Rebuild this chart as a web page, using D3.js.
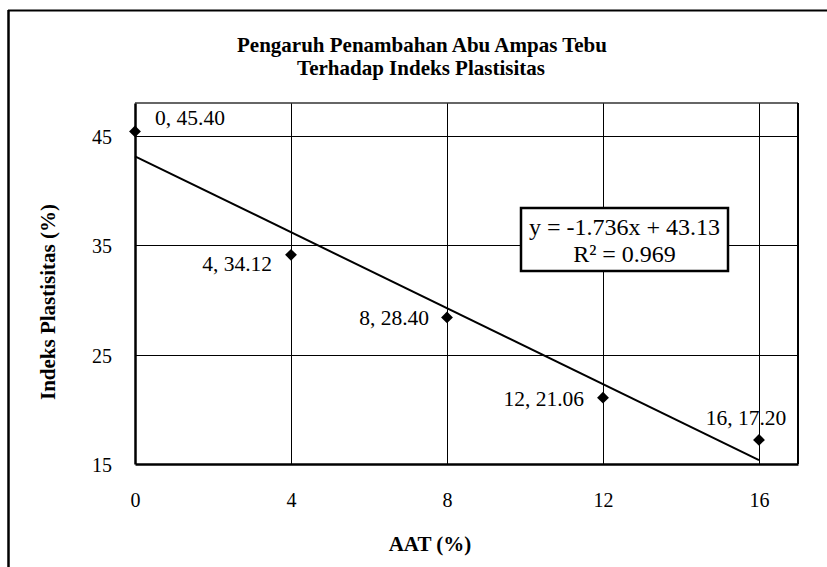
<!DOCTYPE html>
<html>
<head>
<meta charset="utf-8">
<script src="https://cdn.jsdelivr.net/npm/d3@7"></script>
<style>
  html, body { margin: 0; padding: 0; background: #fff; }
  svg { display: block; font-family: "Liberation Serif", "Times New Roman", serif; }
</style>
</head>
<body>
<svg id="chart" width="827" height="567"></svg>
<script>
// ---- data ----
const titleLines = ["Pengaruh Penambahan Abu Ampas Tebu", "Terhadap Indeks Plastisitas"];
const xLabel = "AAT (%)";
const yLabel = "Indeks Plastisitas (%)";
const xValues = [0, 4, 8, 12, 16];
const yValues = [45.40, 34.12, 28.40, 21.06, 17.20];
const xTicks = [0, 4, 8, 12, 16];
const yTicks = [15, 25, 35, 45];
const trendSlope = -1.736;
const trendIntercept = 43.13;
const rSquared = 0.969;

// ---- layout (label placement relative to marker) ----
const labelLayout = [
  { dx: 20, dy: -6, anchor: "start" },
  { dx: -19, dy: 16, anchor: "end" },
  { dx: -18, dy: 8, anchor: "end" },
  { dx: -19, dy: 8.5, anchor: "end" },
  { dx: -13, dy: -15, anchor: "middle" }
];

const svg = d3.select("#chart");
const W = 827, H = 567;
const plot = { left: 135, right: 798, top: 103, bottom: 464 };

const x = d3.scaleLinear().domain([0, 17]).range([plot.left, plot.right]);
const y = d3.scaleLinear().domain([15, 48]).range([plot.bottom, plot.top]);

// outer frame (top & left visible)
svg.append("line").attr("x1", 8).attr("x2", W).attr("y1", 10.5).attr("y2", 10.5)
  .attr("stroke", "#000").attr("stroke-width", 2);
svg.append("line").attr("x1", 8.5).attr("x2", 8.5).attr("y1", 10).attr("y2", H)
  .attr("stroke", "#000").attr("stroke-width", 2.5);

// title
svg.append("text").attr("x", 422).attr("y", 52).attr("text-anchor", "middle")
  .attr("font-size", 21).attr("font-weight", "bold").text(titleLines[0]);
svg.append("text").attr("x", 421).attr("y", 75).attr("text-anchor", "middle")
  .attr("font-size", 21).attr("font-weight", "bold").text(titleLines[1]);

// gridlines
const grid = svg.append("g");
grid.selectAll(".gx").data(xTicks.filter(d => d > 0)).join("line")
  .attr("x1", d => Math.round(x(d)) + 0.5).attr("x2", d => Math.round(x(d)) + 0.5)
  .attr("y1", plot.top).attr("y2", plot.bottom)
  .attr("stroke", "#000").attr("stroke-width", 1);
grid.selectAll(".gy").data(yTicks.filter(d => d > 15)).join("line")
  .attr("x1", plot.left).attr("x2", plot.right)
  .attr("y1", d => Math.round(y(d)) + 0.5).attr("y2", d => Math.round(y(d)) + 0.5)
  .attr("stroke", "#000").attr("stroke-width", 1);

// plot border
svg.append("line").attr("x1", plot.left).attr("x2", plot.right).attr("y1", plot.top).attr("y2", plot.top)
  .attr("stroke", "#333").attr("stroke-width", 1.5);
svg.append("line").attr("x1", plot.right).attr("x2", plot.right).attr("y1", plot.top).attr("y2", plot.bottom)
  .attr("stroke", "#000").attr("stroke-width", 2);

// axes (no tick marks, labels only)
const xAxis = d3.axisBottom(x).tickValues(xTicks).tickSize(0).tickPadding(0).tickFormat(d3.format("d"));
const gx = svg.append("g").attr("transform", `translate(0,${plot.bottom})`).call(xAxis);
gx.select(".domain").attr("stroke", "#000").attr("stroke-width", 2.5);
gx.selectAll("text").attr("font-size", 20).attr("font-family", "Liberation Serif")
  .attr("fill", "#000").attr("dy", null).attr("y", 43);

const yAxis = d3.axisLeft(y).tickValues(yTicks).tickSize(0).tickPadding(0).tickFormat(d3.format("d"));
const gy = svg.append("g").attr("transform", `translate(${plot.left},0)`).call(yAxis);
gy.select(".domain").attr("stroke", "#000").attr("stroke-width", 2.5);
gy.selectAll("text").attr("font-size", 20).attr("font-family", "Liberation Serif")
  .attr("fill", "#000").attr("x", -23).attr("dy", "0.38em");

// axis titles
svg.append("text").attr("x", 430).attr("y", 551).attr("text-anchor", "middle")
  .attr("font-size", 21).attr("font-weight", "bold").text(xLabel);
svg.append("text").attr("transform", "translate(55,302) rotate(-90)").attr("text-anchor", "middle")
  .attr("font-size", 21).attr("font-weight", "bold").text(yLabel);

// trendline
const trend = x0 => trendSlope * x0 + trendIntercept;
svg.append("line")
  .attr("x1", x(xValues[0])).attr("y1", y(trend(xValues[0])))
  .attr("x2", x(xValues[xValues.length - 1])).attr("y2", y(trend(xValues[xValues.length - 1])))
  .attr("stroke", "#000").attr("stroke-width", 2);

// markers
const data = xValues.map((d, i) => ({ x: d, y: yValues[i], i }));
svg.selectAll(".pt").data(data).join("path")
  .attr("d", d3.symbol(d3.symbolSquare, 70))
  .attr("transform", d => `translate(${x(d.x)},${y(d.y)}) rotate(45)`)
  .attr("fill", "#000");

// data labels
svg.selectAll(".lbl").data(data).join("text")
  .attr("x", d => x(d.x) + labelLayout[d.i].dx)
  .attr("y", d => y(d.y) + labelLayout[d.i].dy)
  .attr("text-anchor", d => labelLayout[d.i].anchor)
  .attr("font-size", 21.5)
  .text(d => `${d.x}, ${d.y.toFixed(2)}`);

// equation box
const box = { x: 521, y: 208, w: 207, h: 63 };
svg.append("rect").attr("x", box.x).attr("y", box.y).attr("width", box.w).attr("height", box.h)
  .attr("fill", "#fff").attr("stroke", "#000").attr("stroke-width", 2.5);
svg.append("text").attr("x", box.x + box.w / 2).attr("y", 235).attr("text-anchor", "middle")
  .attr("font-size", 24).text(`y = ${trendSlope}x + ${trendIntercept}`);
svg.append("text").attr("x", box.x + box.w / 2).attr("y", 262).attr("text-anchor", "middle")
  .attr("font-size", 24).text(`R² = ${rSquared}`);
</script>
</body>
</html>
